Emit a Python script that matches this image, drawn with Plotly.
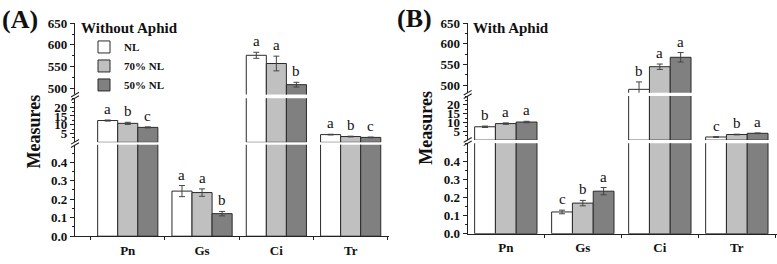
import plotly.graph_objects as go

# ---------------- data ----------------
categories = ["Pn", "Gs", "Ci", "Tr"]
series_names = ["NL", "70% NL", "50% NL"]

# Panel A : Without Aphid
a_nl = [12.4, 0.244, 576, 4.4]
a_70 = [10.8, 0.236, 557, 3.3]
a_50 = [8.5, 0.122, 508, 2.8]
a_nl_err = [0.3, 0.03, 7, 0.2]
a_70_err = [0.6, 0.02, 17, 0.2]
a_50_err = [0.3, 0.012, 5.5, 0.2]
a_let_nl = ["a", "a", "a", "a"]
a_let_70 = ["b", "a", "a", "b"]
a_let_50 = ["c", "b", "b", "c"]

# Panel B : With Aphid
b_nl = [7.6, 0.120, 489.5, 1.8]
b_70 = [9.4, 0.169, 544.5, 3.2]
b_50 = [10.3, 0.235, 567.4, 3.9]
b_nl_err = [0.4, 0.01, 18, 0.2]
b_70_err = [0.4, 0.015, 6.5, 0.2]
b_50_err = [0.4, 0.02, 11.5, 0.2]
b_let_nl = ["b", "c", "b", "c"]
b_let_70 = ["a", "b", "a", "b"]
b_let_50 = ["a", "a", "a", "a"]

# which axis segment (0 bottom, 1 middle, 2 top) holds each category's bar top
segment_of = [1, 0, 2, 1]

# ---------------- style ----------------
W, H = 777, 264
SERIF = "Liberation Serif, Times New Roman, serif"
colors = ["#ffffff", "#c0c0c0", "#808080"]
BW = 0.27

A_RANGES = [[0, 0.495], [0.1, 25.1], [485.4, 650]]
B_RANGES = [[0, 0.5], [0.1, 25.1], [481, 650]]


def px(x):
    return x / W


def py(y):
    return (H - y) / H


fig = go.Figure()

panels = [
    dict(vals=[a_nl, a_70, a_50], errs=[a_nl_err, a_70_err, a_50_err],
         lets=[a_let_nl, a_let_70, a_let_50], x="x", ys=["y", "y2", "y3"],
         ranges=A_RANGES, legend=True),
    dict(vals=[b_nl, b_70, b_50], errs=[b_nl_err, b_70_err, b_50_err],
         lets=[b_let_nl, b_let_70, b_let_50], x="x2", ys=["y4", "y5", "y6"],
         ranges=B_RANGES, legend=False),
]

annotations = []
for p in panels:
    for s, ya in enumerate(p["ys"]):
        for i in range(3):
            # a bar only appears in a segment if it rises above the segment below
            yv = [v if (s == 0 or v > p["ranges"][s - 1][1]) else None
                  for v in p["vals"][i]]
            fig.add_trace(go.Bar(
                x=categories, y=yv, name=series_names[i],
                xaxis=p["x"], yaxis=ya,
                offset=-1.5 * BW + i * BW, width=BW,
                marker=dict(color=colors[i], line=dict(color="#2a2a2a", width=1)),
                error_y=dict(type="data", array=p["errs"][i], color="#444444",
                             thickness=1, width=3),
                showlegend=(p["legend"] and s == 0),
                legendrank=i,
            ))
    for i in range(3):
        for j, cat in enumerate(categories):
            seg = segment_of[j]
            annotations.append(dict(
                x=j - BW + i * BW, y=p["vals"][i][j] + p["errs"][i][j],
                xref=p["x"], yref=p["ys"][seg],
                text=p["lets"][i][j], showarrow=False, yanchor="bottom",
                xanchor="center", yshift=1,
                font=dict(family=SERIF, size=15, color="#111"),
            ))

tickfont = dict(family=SERIF, size=13, color="#111", weight="bold")


def yaxis_style(domain, rng, anchor, tickvals, minor_dtick, fmt=None):
    d = dict(domain=domain, range=rng, anchor=anchor, showline=True,
             linecolor="#222", linewidth=1.2, ticks="outside", ticklen=4,
             tickwidth=1, tickcolor="#222", showgrid=False, zeroline=False,
             tickvals=tickvals, tickfont=tickfont,
             minor=dict(ticks="outside", ticklen=2, tickcolor="#222",
                        dtick=minor_dtick, showgrid=False))
    if fmt:
        d["tickformat"] = fmt
    return d


def xaxis_style(domain, rng, anchor):
    return dict(domain=domain, range=rng, anchor=anchor, type="category",
                showline=True, linecolor="#222", linewidth=1.2,
                ticks="outside", tickson="boundaries", ticklen=3,
                tickcolor="#222", showgrid=False, zeroline=False,
                tickfont=tickfont, ticklabelstandoff=2)


fig.update_layout(
    width=W, height=H,
    margin=dict(l=0, r=0, t=0, b=0),
    paper_bgcolor="white", plot_bgcolor="rgba(0,0,0,0)",
    barmode="overlay",
    xaxis=xaxis_style([px(75), px(389)], [-0.71, 3.516], "y"),
    yaxis=yaxis_style([py(243), py(146)], A_RANGES[0], "x",
                      [0.0, 0.1, 0.2, 0.3, 0.4], 0.05, ".1f"),
    yaxis2=yaxis_style([py(143.3), py(96.7)], A_RANGES[1], "x",
                       [5, 10, 15, 20], 2.5),
    yaxis3=yaxis_style([py(92.7), py(17.3)], A_RANGES[2], "x",
                       [500, 550, 600, 650], 25),
    xaxis2=xaxis_style([px(467.7), px(776.5)], [-0.495, 3.515], "y4"),
    yaxis4=yaxis_style([py(240.3), py(144.5)], B_RANGES[0], "x2",
                       [0.0, 0.1, 0.2, 0.3, 0.4], 0.05, ".1f"),
    yaxis5=yaxis_style([py(141), py(94.3)], B_RANGES[1], "x2",
                       [5, 10, 15, 20], 2.5),
    yaxis6=yaxis_style([py(91), py(17.3)], B_RANGES[2], "x2",
                       [500, 550, 600, 650], 25),
    legend=dict(x=px(84), y=py(27), xanchor="left", yanchor="top",
                bgcolor="rgba(0,0,0,0)", font=dict(family=SERIF, size=11,
                                                   color="#111", weight="bold"),
                tracegroupgap=0, itemwidth=30, traceorder="normal"),
)

title_font = dict(family=SERIF, size=26, color="#111", weight="bold")
sub_font = dict(family=SERIF, size=15, color="#111", weight="bold")
ytitle_font = dict(family=SERIF, size=18, color="#111", weight="bold")
annotations += [
    dict(x=px(0), y=py(13), xref="paper", yref="paper", xanchor="left",
         yanchor="middle", text="(A)", showarrow=False, font=title_font),
    dict(x=px(395), y=py(12), xref="paper", yref="paper", xanchor="left",
         yanchor="middle", text="(B)", showarrow=False, font=title_font),
    dict(x=px(79), y=py(22), xref="paper", yref="paper", xanchor="left",
         yanchor="middle", text="Without Aphid", showarrow=False, font=sub_font),
    dict(x=px(471), y=py(22), xref="paper", yref="paper", xanchor="left",
         yanchor="middle", text="With Aphid", showarrow=False, font=sub_font),
    dict(x=px(33), y=py(132), xref="paper", yref="paper", textangle=-90,
         xanchor="center", yanchor="middle", text="Measures",
         showarrow=False, font=ytitle_font),
    dict(x=px(426), y=py(128), xref="paper", yref="paper", textangle=-90,
         xanchor="center", yanchor="middle", text="Measures",
         showarrow=False, font=ytitle_font),
]
fig.update_layout(annotations=annotations)

# axis-break marks
shapes = []
for ax_x, gaps in [(75, [94.7, 144.7]), (467.7, [92.7, 142.7])]:
    for g in gaps:
        for dy in (-1.8, 1.8):
            shapes.append(dict(type="line", xref="paper", yref="paper",
                               x0=px(ax_x - 4), y0=py(g + dy + 2.5),
                               x1=px(ax_x + 4), y1=py(g + dy - 2.5),
                               line=dict(color="#222", width=1.1)))
fig.update_layout(shapes=shapes)

fig.write_html("out.html",
               config={"displayModeBar": False},
               post_script="document.body.style.margin='0px';"
                           "document.body.style.overflow='hidden';")
